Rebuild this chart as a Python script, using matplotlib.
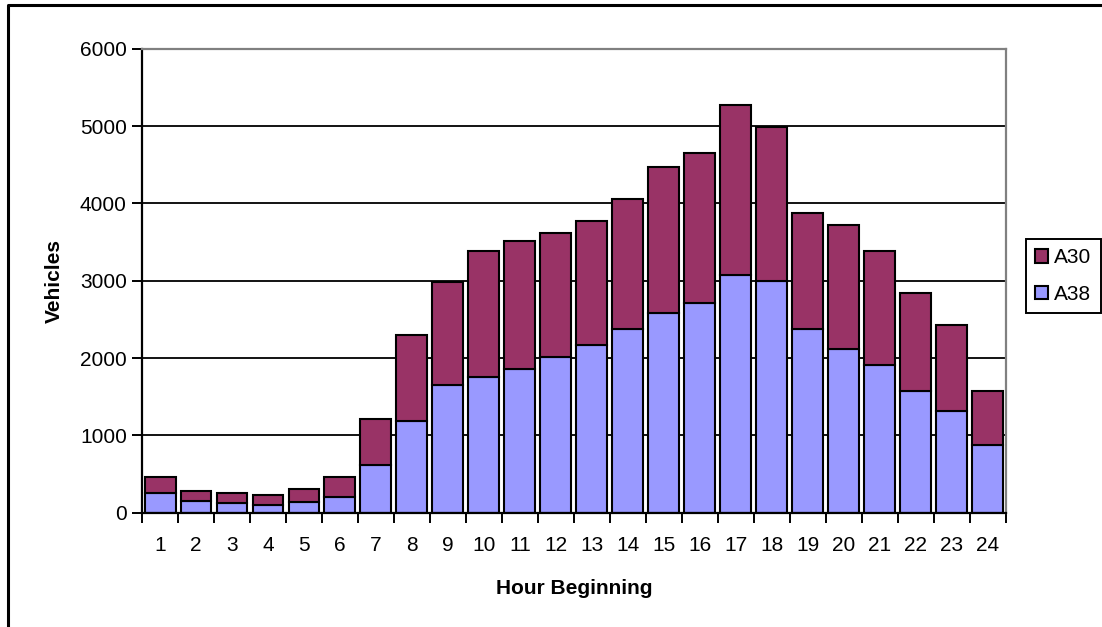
#!/usr/bin/env python3
"""
Hourly traffic counts - stacked bar chart of A38 and A30 vehicles
by hour of the day.
"""

import matplotlib
matplotlib.use("Agg")
import matplotlib.pyplot as plt
from matplotlib.lines import Line2D
from matplotlib.ticker import FixedLocator, NullFormatter

hours = list(range(1, 25))
hour_labels = [str(h) for h in hours]

# vehicles per hour (A38 at the bottom, A30 stacked on top)
a38 = [255, 147, 125, 100, 142, 203, 613, 1186, 1649, 1759, 1862, 2017,
       2172, 2379, 2582, 2716, 3070, 2996, 2379, 2117, 1910, 1574, 1315, 872]
a30 = [207, 134, 130, 129, 164, 259, 599, 1114, 1338, 1629, 1655, 1604,
       1604, 1678, 1892, 1939, 2206, 1996, 1497, 1607, 1474, 1271, 1112, 702]

y_ticks = [0, 1000, 2000, 3000, 4000, 5000, 6000]

A38_COLOR = "#9999FF"
A30_COLOR = "#993366"

plt.rcParams["font.family"] = ["Liberation Sans", "DejaVu Sans"]


def main():
    fig = plt.figure(figsize=(11.02, 6.27), dpi=100)
    ax = fig.add_axes([0.1289, 0.1823, 0.7837, 0.7400])

    # y gridlines behind the bars
    ax.set_axisbelow(True)
    ax.yaxis.grid(True, color="black", linewidth=1.3)

    bars_a38 = ax.bar(hours, a38, width=0.86, color=A38_COLOR,
                      edgecolor="black", linewidth=1.5, label="A38")
    bars_a30 = ax.bar(hours, a30, width=0.86, bottom=a38, color=A30_COLOR,
                      edgecolor="black", linewidth=1.5, label="A30")

    ax.set_xlim(0.5, 24.5)
    ax.set_ylim(0, 6000)
    ax.set_yticks(y_ticks)
    ax.tick_params(axis="y", direction="out", length=7, width=1.4,
                   labelsize=15, pad=4, color="black")

    # tick marks sit between categories, labels at the category centres
    ax.xaxis.set_major_locator(FixedLocator([h + 0.5 for h in range(0, 25)]))
    ax.xaxis.set_major_formatter(NullFormatter())
    ax.xaxis.set_minor_locator(FixedLocator(hours))
    ax.set_xticklabels(hour_labels, minor=True)
    ax.tick_params(axis="x", which="major", direction="out", length=7,
                   width=1.4, color="black")
    ax.tick_params(axis="x", which="minor", length=0, labelsize=15, pad=17)

    for side in ("left", "bottom"):
        ax.spines[side].set_color("black")
        ax.spines[side].set_linewidth(1.6)
    for side in ("top", "right"):
        ax.spines[side].set_color("#808080")
        ax.spines[side].set_linewidth(1.6)

    ax.set_xlabel("Hour Beginning", fontsize=15, fontweight="bold")
    ax.xaxis.set_label_coords(0.5, -0.143)
    ax.set_ylabel("Vehicles", fontsize=15, fontweight="bold")
    ax.yaxis.set_label_coords(-0.102, 0.5)
    ax.yaxis.label.set_verticalalignment("center")

    leg = fig.legend([bars_a30, bars_a38], ["A30", "A38"],
                     loc="upper left", bbox_to_anchor=(1026 / 1102, 1 - 239 / 627),
                     fontsize=15, frameon=True, fancybox=False,
                     handlelength=0.6, handleheight=0.6, handletextpad=0.3,
                     borderpad=0.45, labelspacing=0.85, borderaxespad=0)
    leg.get_frame().set_edgecolor("black")
    leg.get_frame().set_linewidth(1.4)
    leg.get_frame().set_alpha(1)

    # outer chart border (left and top edges)
    fig.add_artist(Line2D([8 / 1102, 8 / 1102, 1.0],
                          [0.0, 1 - 5 / 627, 1 - 5 / 627],
                          transform=fig.transFigure, color="black",
                          linewidth=2.2))

    fig.savefig("out.png", dpi=100)


if __name__ == "__main__":
    main()
